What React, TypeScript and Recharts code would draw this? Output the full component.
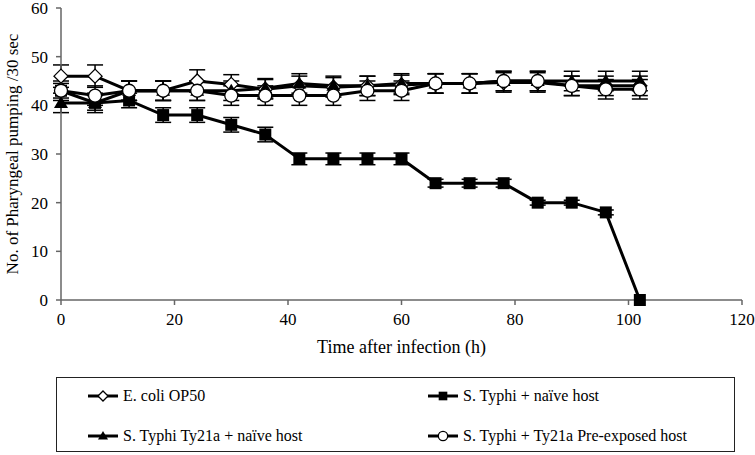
import {
  LineChart,
  Line,
  XAxis,
  YAxis,
  ErrorBar,
  Label,
} from "recharts";

const hours = [0, 6, 12, 18, 24, 30, 36, 42, 48, 54, 60, 66, 72, 78, 84, 90, 96, 102];

const ecoli = [46, 46, 43, 43, 45, 44.3, 43.3, 44, 43.7, 44, 44.2, 44.5, 44.5, 44.7, 44.7, 44, 44, 44];
const ecoliErr = [2.3, 2.3, 2, 2, 2.3, 2, 2, 2, 2, 2, 2, 2, 2, 2, 2, 2, 2, 2];

const typhi = [43, 40.5, 41, 38, 38, 36, 34, 29, 29, 29, 29, 24, 24, 24, 20, 20, 18, 0];
const typhiErr = [1.5, 1.5, 1.5, 1.5, 1.5, 1.5, 1.5, 1.2, 1.2, 1.2, 1.2, 0.8, 0.8, 0.8, 0.5, 0.5, 0.5, 0];

const ty21a = [40.5, 40.5, 43, 43, 43, 43, 43.5, 44.5, 44, 44, 44.5, 44.5, 44.5, 45, 45, 45, 45, 45];
const ty21aErr = [2, 2, 2, 2, 2, 2, 2, 2, 2, 2, 2, 2, 2, 2, 2, 2, 2, 2];

const preExposed = [43, 42, 43, 43, 43, 42, 42, 42, 42, 43, 43, 44.5, 44.5, 45, 45, 44, 43.3, 43.3];
const preExposedErr = [2, 2, 2, 2, 2, 2, 2, 2, 2, 2, 2, 2, 2, 2, 2, 2, 2, 2];

const xTicks = [0, 20, 40, 60, 80, 100, 120];
const yTicks = [0, 10, 20, 30, 40, 50, 60];

const legendItems = [
  { name: "E. coli OP50", shape: "diamond" },
  { name: "S. Typhi + naïve host", shape: "square" },
  { name: "S. Typhi Ty21a + naïve host", shape: "triangle" },
  { name: "S. Typhi + Ty21a Pre-exposed host", shape: "circle" },
];

const data = hours.map((h, i) => ({
  h,
  ecoli: ecoli[i],
  ecoliErr: ecoliErr[i],
  typhi: typhi[i],
  typhiErr: typhiErr[i],
  ty21a: ty21a[i],
  ty21aErr: ty21aErr[i],
  preExposed: preExposed[i],
  preExposedErr: preExposedErr[i],
}));

const FONT = "'Liberation Serif', 'Times New Roman', serif";

function Marker({ shape, cx, cy, s = 1 }: { shape: string; cx: number; cy: number; s?: number }) {
  if (shape === "diamond")
    return (
      <path
        d={`M${cx},${cy - 7 * s}L${cx + 7 * s},${cy}L${cx},${cy + 7 * s}L${cx - 7 * s},${cy}Z`}
        fill="#fff"
        stroke="#000"
        strokeWidth={1.3}
      />
    );
  if (shape === "square")
    return <rect x={cx - 6 * s} y={cy - 6 * s} width={12 * s} height={12 * s} fill="#000" />;
  if (shape === "triangle")
    return (
      <path
        d={`M${cx},${cy - 7 * s}L${cx + 7 * s},${cy + 5 * s}L${cx - 7 * s},${cy + 5 * s}Z`}
        fill="#000"
      />
    );
  return <circle cx={cx} cy={cy} r={6.5 * s} fill="#fff" stroke="#000" strokeWidth={1.3} />;
}

const dotFor = (shape: string) => (props: any) => {
  const { cx, cy, index } = props;
  if (cx == null || cy == null) return <g key={index} />;
  return (
    <g key={`${shape}-${index}`}>
      <Marker shape={shape} cx={cx} cy={cy} />
    </g>
  );
};

function LegendBox() {
  return (
    <div
      style={{
        position: "absolute",
        left: 56,
        top: 377,
        width: 677,
        height: 73,
        border: "1.5px solid #222",
        fontFamily: FONT,
        fontSize: 16,
        color: "#000",
      }}
    >
      {legendItems.map((item, i) => (
        <div
          key={item.name}
          style={{
            position: "absolute",
            left: i % 2 === 0 ? 30 : 370,
            top: i < 2 ? 9 : 49,
            display: "flex",
            alignItems: "center",
            whiteSpace: "nowrap",
          }}
        >
          <svg width={32} height={16} style={{ marginRight: 4 }}>
            <line x1={1} y1={8} x2={31} y2={8} stroke="#000" strokeWidth={3} />
            <Marker shape={item.shape} cx={16} cy={8} s={0.72} />
          </svg>
          <span>{item.name}</span>
        </div>
      ))}
    </div>
  );
}

export default function App() {
  return (
    <div style={{ position: "absolute", left: 0, top: 0, width: 755, height: 455, background: "#fff" }}>
      <LineChart
        width={755}
        height={455}
        data={data}
        margin={{ top: 8, right: 13, bottom: 99, left: 11 }}
      >
        <XAxis
          dataKey="h"
          type="number"
          domain={[0, 120]}
          ticks={xTicks}
          interval={0}
          axisLine={{ stroke: "#666", strokeWidth: 1.5 }}
          tickLine={{ stroke: "#666", strokeWidth: 1.5 }}
          tickSize={5}
          tick={{ fill: "#000", fontSize: 17, fontFamily: FONT }}
          tickMargin={8}
          height={56}
        >
          <Label
            value="Time after infection (h)"
            position="insideBottom"
            offset={3}
            style={{ fill: "#000", fontSize: 18, fontFamily: FONT }}
          />
        </XAxis>
        <YAxis
          type="number"
          domain={[0, 60]}
          ticks={yTicks}
          interval={0}
          width={50}
          axisLine={{ stroke: "#666", strokeWidth: 1.5 }}
          tickLine={{ stroke: "#666", strokeWidth: 1.5 }}
          tickSize={5}
          tickMargin={8}
          tick={{ fill: "#000", fontSize: 17, fontFamily: FONT }}
        >
          <Label
            value="No. of Pharyngeal pumping /30 sec"
            angle={-90}
            position="insideLeft"
            offset={1}
            style={{ fill: "#000", fontSize: 17, fontFamily: FONT, textAnchor: "middle" }}
          />
        </YAxis>
        <Line
          dataKey="ecoli"
          stroke="#000"
          strokeWidth={3}
          dot={dotFor("diamond")}
          isAnimationActive={false}
        >
          <ErrorBar dataKey="ecoliErr" direction="y" width={8} stroke="#000" strokeWidth={1.5} />
        </Line>
        <Line
          dataKey="typhi"
          stroke="#000"
          strokeWidth={3}
          dot={dotFor("square")}
          isAnimationActive={false}
        >
          <ErrorBar dataKey="typhiErr" direction="y" width={8} stroke="#000" strokeWidth={1.5} />
        </Line>
        <Line
          dataKey="ty21a"
          stroke="#000"
          strokeWidth={3}
          dot={dotFor("triangle")}
          isAnimationActive={false}
        >
          <ErrorBar dataKey="ty21aErr" direction="y" width={8} stroke="#000" strokeWidth={1.5} />
        </Line>
        <Line
          dataKey="preExposed"
          stroke="#000"
          strokeWidth={3}
          dot={dotFor("circle")}
          isAnimationActive={false}
        >
          <ErrorBar dataKey="preExposedErr" direction="y" width={8} stroke="#000" strokeWidth={1.5} />
        </Line>
      </LineChart>
      <LegendBox />
    </div>
  );
}
